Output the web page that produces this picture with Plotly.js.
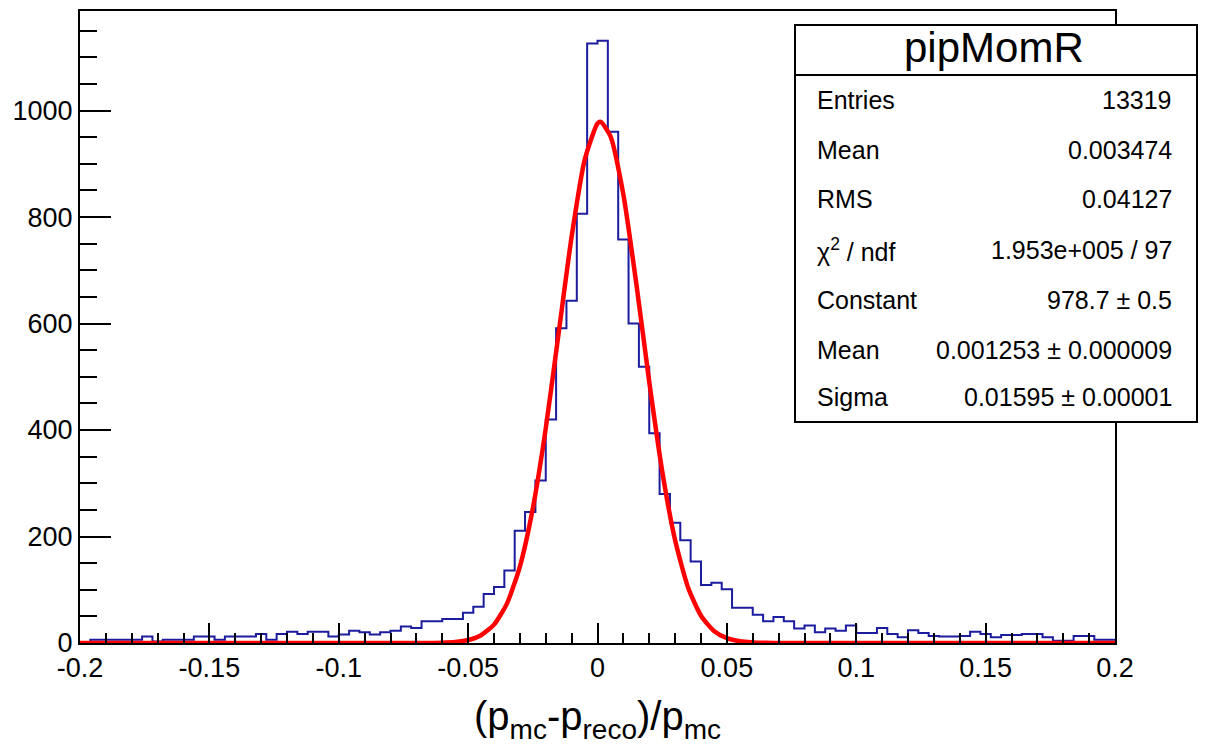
<!DOCTYPE html>
<html>
<head>
<meta charset="utf-8">
<script src="https://cdn.plot.ly/plotly-3.0.1.min.js"></script>
<style>html,body{margin:0;padding:0;background:#fff;}#chart{width:1208px;height:756px;}</style>
</head>
<body>
<div id="chart"></div>
<script>
// Histogram definition
const binLow = -0.2;
const binHigh = 0.2;
const binWidth = 0.004;
const binCounts = [
  2, 6, 6, 6, 6, 6, 12, 3, 6, 6,
  6, 12, 12, 6, 12, 12, 12, 17, 6, 17,
  21, 17, 21, 21, 12, 16, 23, 20, 16, 20,
  23, 31, 28, 41, 41, 45, 45, 57, 68, 92,
  105, 136, 211, 246, 305, 420, 591, 643, 806, 1126,
  1131, 960, 758, 600, 519, 394, 280, 226, 193, 153,
  109, 113, 101, 66, 66, 53, 41, 49, 41, 27,
  33, 20, 27, 23, 33, 19, 19, 28, 17, 11,
  24, 19, 13, 12, 12, 13, 21, 17, 11, 15,
  15, 17, 17, 11, 4, 4, 13, 13, 6, 6
];

// Gaussian fit curve
const fitX = [-0.2, -0.07, -0.065, -0.06, -0.055, -0.05, -0.045, -0.04, -0.035, -0.03, -0.025, -0.02, -0.015, -0.01, -0.005, 0, 0.00125, 0.005, 0.01, 0.015, 0.02, 0.025, 0.03, 0.035, 0.04, 0.045, 0.05, 0.055, 0.06, 0.065, 0.07, 0.2];
const fitY = [0, 0.05, 0.18, 0.6, 2.0, 5.6, 14.6, 34.5, 74.0, 143.6, 252.7, 402.9, 582.6, 763.2, 906.4, 975.7, 978.7, 952.0, 842.0, 674.9, 490.4, 323.0, 192.8, 104.3, 51.2, 22.7, 9.2, 3.3, 1.1, 0.33, 0.09, 0];

// Axis ticks
const xTickVals = [-0.2, -0.15, -0.1, -0.05, 0, 0.05, 0.1, 0.15, 0.2];
const xTickText = ["-0.2", "-0.15", "-0.1", "-0.05", "0", "0.05", "0.1", "0.15", "0.2"];
const yTickVals = [0, 200, 400, 600, 800, 1000];
const yTickText = ["0", "200", "400", "600", "800", "1000"];

// Stats box
const statsTitle = "pipMomR";
const statsLabels = ["Entries", "Mean", "RMS", "χ<sup>2</sup> / ndf", "Constant", "Mean", "Sigma"];
const statsValues = ["13319", "0.003474", "0.04127", "1.953e+005 / 97", "978.7 ± 0.5", "0.001253 ± 0.000009", "0.01595 ± 0.00001"];

const xTitle = "(p<sub>mc</sub>-p<sub>reco</sub>)/p<sub>mc</sub>";

// build step outline
const histX = [];
const histY = [];
for (let i = 0; i < binCounts.length; i++) {
  histX.push(binLow + i * binWidth);
  histY.push(binCounts[i]);
}
histX.push(binHigh);
histY.push(binCounts[binCounts.length - 1]);

const traces = [
  {
    x: histX, y: histY, type: 'scatter', mode: 'lines',
    line: {shape: 'hv', color: '#1c1c9e', width: 2},
    hoverinfo: 'skip', showlegend: false
  },
  {
    x: fitX, y: fitY, type: 'scatter', mode: 'lines',
    line: {shape: 'spline', smoothing: 0.6, color: '#ff0000', width: 4.5},
    hoverinfo: 'skip', showlegend: false
  }
];

// layout geometry
const W = 1208, H = 756;
const mL = 80, mR = 93, mT = 11, mB = 113;
const pw = W - mL - mR, ph = H - mT - mB;
const px2x = p => (p - mL) / pw;
const py2y = p => (H - mB - p) / ph;

const font = "Liberation Sans, Arial, Helvetica, sans-serif";

const shapes = [
  {type: 'rect', xref: 'paper', yref: 'paper', x0: px2x(795), x1: px2x(1197), y0: py2y(422), y1: py2y(25),
   line: {color: 'black', width: 2}, fillcolor: 'white', layer: 'above'},
  {type: 'line', xref: 'paper', yref: 'paper', x0: px2x(795), x1: px2x(1197), y0: py2y(75), y1: py2y(75),
   line: {color: 'black', width: 2}, layer: 'above'}
];

const rowPy = [100, 150, 199, 250, 300, 350, 397];
const annotations = [
  {xref: 'paper', yref: 'paper', x: px2x(994), y: py2y(48), text: statsTitle, showarrow: false,
   xanchor: 'center', yanchor: 'middle', font: {family: font, size: 42, color: 'black'}}
];
for (let i = 0; i < statsLabels.length; i++) {
  annotations.push({xref: 'paper', yref: 'paper', x: px2x(815), y: py2y(rowPy[i]), text: statsLabels[i],
    showarrow: false, xanchor: 'left', yanchor: 'middle', font: {family: font, size: 25, color: 'black'}});
  annotations.push({xref: 'paper', yref: 'paper', x: px2x(1174), y: py2y(rowPy[i]), text: statsValues[i],
    showarrow: false, xanchor: 'right', yanchor: 'middle', font: {family: font, size: 25, color: 'black'}});
}

const layout = {
  width: W, height: H,
  margin: {l: mL, r: mR, t: mT, b: mB, pad: 0},
  paper_bgcolor: 'white', plot_bgcolor: 'white',
  showlegend: false,
  font: {family: font, color: 'black'},
  xaxis: {
    range: [binLow, binHigh], tickmode: 'array', tickvals: xTickVals, ticktext: xTickText,
    ticks: 'inside', ticklen: 20, tickwidth: 2, tickcolor: 'black',
    showline: true, linecolor: 'black', linewidth: 2, mirror: true,
    showgrid: false, zeroline: false,
    tickfont: {family: font, size: 27, color: 'black'},
    minor: {tickmode: 'linear', tick0: 0, dtick: 0.01, ticks: 'inside', ticklen: 10, tickwidth: 2, tickcolor: 'black', showgrid: false},
    title: {text: xTitle, font: {family: font, size: 40, color: 'black'}, standoff: 20}
  },
  yaxis: {
    range: [0, 1187], tickmode: 'array', tickvals: yTickVals, ticktext: yTickText,
    ticks: 'inside', ticklen: 31, tickwidth: 2, tickcolor: 'black',
    showline: true, linecolor: 'black', linewidth: 2, mirror: true,
    showgrid: false, zeroline: false,
    tickfont: {family: font, size: 27, color: 'black'},
    minor: {tickmode: 'linear', tick0: 0, dtick: 50, ticks: 'inside', ticklen: 17, tickwidth: 2, tickcolor: 'black', showgrid: false}
  },
  shapes: shapes,
  annotations: annotations
};

Plotly.newPlot('chart', traces, layout, {staticPlot: true, displayModeBar: false});
</script>
</body>
</html>
